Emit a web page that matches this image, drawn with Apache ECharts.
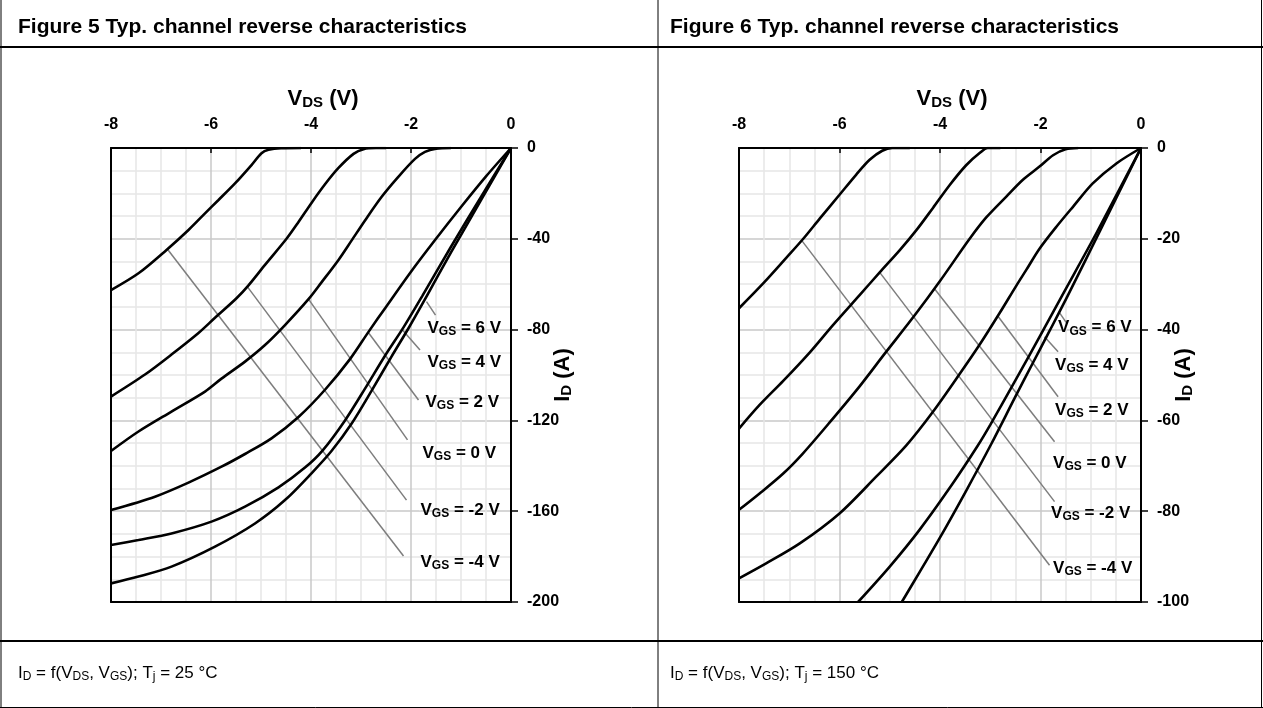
<!DOCTYPE html>
<html>
<head>
<meta charset="utf-8">
<title>Typ. channel reverse characteristics</title>
<script src="https://cdn.jsdelivr.net/npm/echarts@6/dist/echarts.min.js"></script>
<style>
  html, body { margin: 0; padding: 0; background: #fff; }
  #container { width: 1263px; height: 708px; }
</style>
</head>
<body>
<div id="container"></div>
<script>
// V_DS (V) , I_D (A)

// Figure 5, Tj = 25 C
var vgsM4_25 = [[-8,-62.6],[-7.45,-55.2],[-6.89,-44.9],[-6.45,-36.1],[-6.12,-28.8],[-5.85,-22.9],[-5.52,-15.6],[-5.19,-7.5],[-4.99,-2.3],[-4.85,-0.8],[-4.6,-0.1],[-4.2,0]];
var vgsM2_25 = [[-8,-109.5],[-7.32,-99.8],[-6.79,-91],[-6.25,-81.5],[-5.92,-74.8],[-5.49,-66.2],[-5.25,-60.5],[-4.92,-51.5],[-4.49,-40],[-4.25,-32.6],[-3.99,-24.2],[-3.72,-16],[-3.45,-8.8],[-3.15,-2.6],[-2.95,-0.5],[-2.7,0],[-2.5,0]];
var vgs0_25 = [[-8,-133.5],[-7.45,-124.9],[-6.79,-116.1],[-6.12,-107.3],[-5.79,-101.6],[-5.32,-94.1],[-4.92,-86.8],[-4.52,-78],[-4.05,-66.6],[-3.79,-59.2],[-3.45,-49.3],[-3.19,-40.8],[-2.92,-31.9],[-2.59,-21.6],[-2.25,-12.6],[-1.92,-4.8],[-1.72,-1.7],[-1.5,-0.3],[-1.2,0]];
var vgs2_25 = [[-8,-159.5],[-7.12,-153.6],[-6.45,-147.4],[-5.79,-140.4],[-5.32,-134.8],[-4.79,-127.9],[-4.25,-118.5],[-3.72,-106.5],[-3.22,-93],[-2.85,-81],[-2.5,-70],[-2,-54.5],[-1.5,-40],[-1,-26],[-0.5,-12.5],[0,0]];
var vgs4_25 = [[-8,-174.9],[-7.45,-172.7],[-6.79,-169.8],[-5.99,-164.6],[-5.32,-158],[-4.65,-149.5],[-4.12,-140.8],[-3.77,-133.3],[-3.32,-120],[-2.92,-106],[-2.52,-91.5],[-2.15,-79],[-1.77,-65],[-1.2,-43.5],[-0.6,-21.5],[0,0]];
var vgs6_25 = [[-8,-191.8],[-7.45,-188.8],[-6.79,-184.4],[-5.92,-175.6],[-5.12,-165.4],[-4.52,-155.1],[-3.99,-143.3],[-3.59,-133.5],[-3.19,-121.5],[-2.79,-107],[-2.39,-91.9],[-2.05,-79.4],[-1.68,-65],[-1.2,-46],[-0.6,-23],[0,0]];

// Figure 6, Tj = 150 C
var vgsM4_150 = [[-8,-35.3],[-7.5,-29.6],[-7.06,-24.2],[-6.73,-20.1],[-6.39,-15.5],[-6,-10.3],[-5.67,-5.9],[-5.4,-2.6],[-5.15,-0.6],[-4.95,0],[-4.6,0]];
var vgsM2_150 = [[-8,-61.8],[-7.59,-56.6],[-7.12,-51.3],[-6.59,-45],[-6.13,-39],[-5.6,-32.4],[-5.2,-27.4],[-4.8,-22.5],[-4.47,-18.1],[-4.14,-13.2],[-3.81,-8.2],[-3.48,-3.8],[-3.2,-1],[-3.05,0],[-2.8,0]];
var vgs0_150 = [[-8,-79.7],[-7.59,-76.1],[-7.12,-71.7],[-6.73,-67.3],[-6.2,-60.5],[-5.6,-52.5],[-5.1,-45.3],[-4.5,-36.8],[-4,-29.3],[-3.41,-20],[-3.08,-15.3],[-2.68,-10.7],[-2.35,-7],[-2.02,-4.1],[-1.75,-1.6],[-1.5,-0.3],[-1.25,0]];
var vgs2_150 = [[-8,-94.8],[-7.46,-91.5],[-6.79,-87.1],[-6,-80.5],[-5.27,-72.4],[-4.67,-65.5],[-4.14,-58.1],[-3.61,-49.8],[-3.21,-43.3],[-2.81,-36.3],[-2.48,-30.3],[-2.28,-26.8],[-2.02,-22.2],[-1.68,-17.3],[-1.35,-12.9],[-0.96,-7.8],[-0.49,-3.4],[0,0]];
var vgs4_150 = [[-5.63,-100],[-5,-92.2],[-4.4,-84],[-3.74,-73.8],[-3.25,-65.6],[-3,-61],[-2.5,-51.2],[-2,-41.2],[-1.57,-32.5],[-0.9,-19],[0,0]];
var vgs6_150 = [[-4.76,-100],[-4.4,-93.3],[-4.01,-86],[-3.48,-75.5],[-2.98,-65.2],[-2.51,-55],[-2.15,-47.3],[-1.82,-40.3],[-1.47,-32.8],[-0.76,-17],[0,0]];

// curve annotations: [V_GS text, V_DS, I_D]
var labels25 = [['6 V',-1.68,-79.5],['4 V',-1.68,-94.5],['2 V',-1.72,-112],['0 V',-1.78,-134.5],['-2 V',-1.82,-159.5],['-4 V',-1.82,-182.5]];
var labels150 = [['6 V',-1.66,-39.6],['4 V',-1.72,-47.8],['2 V',-1.72,-57.7],['0 V',-1.76,-69.4],['-2 V',-1.8,-80.4],['-4 V',-1.76,-92.5]];
// leader lines, from curve to label
var leaders25 = [[[-6.87,-44.6],[-2.15,-179.7]],[[-5.27,-61.2],[-2.09,-155.1]],[[-4.05,-66.6],[-2.07,-128.6]],[[-2.85,-81.4],[-1.85,-111]],[[-2.17,-80.2],[-1.82,-89]],[[-1.69,-67.7],[-1.51,-73.6]]];
var leaders150 = [[[-6.75,-20.4],[-1.82,-91.9]],[[-5.2,-27.4],[-1.72,-77.9]],[[-4.11,-31],[-1.72,-64.7]],[[-2.85,-37],[-1.65,-54.8]],[[-1.92,-41.6],[-1.65,-44.9]],[[-1.62,-36.3],[-1.49,-38.4]]];

// axes
var xTicks = [-8, -6, -4, -2, 0];
var yTicks25 = [-200, -160, -120, -80, -40, 0];
var yTicks150 = [-100, -80, -60, -40, -20, 0];

var FONT = '"Liberation Sans", Arial, sans-serif';

var dom = document.getElementById('container');
var myChart = echarts.init(dom);

var nameRich = {
  b: { fontFamily: FONT, fontSize: 22, fontWeight: 'bold', color: '#000' },
  sub: { fontFamily: FONT, fontSize: 15, fontWeight: 'bold', color: '#000', padding: [8, 0, 0, 0] }
};

function xAxisFor(idx) {
  return {
    gridIndex: idx,
    type: 'value',
    position: 'top',
    min: xTicks[0],
    max: xTicks[xTicks.length - 1],
    interval: xTicks[1] - xTicks[0],
    name: '{b|V}{sub|DS}{b| (V)}',
    nameLocation: 'middle',
    nameGap: 38,
    nameMoveOverlap: false,
    nameTextStyle: { padding: [0, 0, 0, 24], rich: nameRich },
    axisLine: { show: true, lineStyle: { color: '#000', width: 2 } },
    axisTick: { show: true, inside: true, length: 5, lineStyle: { color: '#000', width: 1.5 } },
    axisLabel: { fontFamily: FONT, fontSize: 16, fontWeight: 'bold', color: '#000', margin: 15 },
    splitLine: { show: true, lineStyle: { color: '#c8c8c8', width: 1.5 } },
    minorTick: { show: false, splitNumber: 4 },
    minorSplitLine: { show: true, lineStyle: { color: '#e6e6e6', width: 1.5 } }
  };
}

function yAxisFor(idx, ticks, gap) {
  return {
    gridIndex: idx,
    type: 'value',
    position: 'right',
    min: ticks[0],
    max: ticks[ticks.length - 1],
    interval: ticks[1] - ticks[0],
    name: '{b|I}{sub|D}{b| (A)}',
    nameLocation: 'middle',
    nameRotate: 90,
    nameGap: gap,
    nameMoveOverlap: false,
    nameTextStyle: { rich: nameRich },
    axisLine: { show: true, lineStyle: { color: '#000', width: 2 } },
    axisTick: { show: true, inside: false, length: 7, lineStyle: { color: '#000', width: 1.5 } },
    axisLabel: { fontFamily: FONT, fontSize: 16, fontWeight: 'bold', color: '#000', margin: 16 },
    splitLine: { show: true, lineStyle: { color: '#c8c8c8', width: 1.5 } },
    minorTick: { show: false, splitNumber: 4 },
    minorSplitLine: { show: true, lineStyle: { color: '#e6e6e6', width: 1.5 } }
  };
}

// plain axes on the other two sides, only to close the black frame
function frameX(idx) {
  return {
    gridIndex: idx, type: 'value', position: 'bottom',
    min: xTicks[0], max: xTicks[xTicks.length - 1],
    axisLine: { show: true, onZero: false, lineStyle: { color: '#000', width: 2 } },
    axisTick: { show: false }, axisLabel: { show: false }, splitLine: { show: false }
  };
}
function frameY(idx, ticks) {
  return {
    gridIndex: idx, type: 'value', position: 'left',
    min: ticks[0], max: ticks[ticks.length - 1],
    axisLine: { show: true, onZero: false, lineStyle: { color: '#000', width: 2 } },
    axisTick: { show: false }, axisLabel: { show: false }, splitLine: { show: false }
  };
}

var series = [];

function addPanel(idx, curves, leaders, labels) {
  leaders.forEach(function (seg) {
    series.push({
      type: 'line',
      xAxisIndex: idx,
      yAxisIndex: idx,
      data: seg,
      symbol: 'none',
      silent: true,
      z: 2,
      lineStyle: { color: '#7d7d7d', width: 1.5 }
    });
  });
  curves.forEach(function (c) {
    series.push({
      type: 'line',
      xAxisIndex: idx,
      yAxisIndex: idx,
      data: c,
      symbol: 'none',
      smooth: 0.3,
      silent: true,
      z: 3,
      lineStyle: { color: '#000', width: 2.6 }
    });
  });
  series.push({
    type: 'scatter',
    xAxisIndex: idx,
    yAxisIndex: idx,
    symbolSize: 1,
    silent: true,
    z: 4,
    itemStyle: { color: '#fff', opacity: 1 },
    label: {
      show: true,
      position: 'right',
      distance: 0,
      color: '#000',
      fontWeight: 'bold',
      formatter: function (p) {
        return '{v|V}{s|GS}{v| = ' + p.name + '}';
      },
      rich: {
        v: { fontFamily: FONT, fontSize: 17, fontWeight: 'bold', color: '#000' },
        s: { fontFamily: FONT, fontSize: 12, fontWeight: 'bold', color: '#000', padding: [7, 0, 0, 0] }
      }
    },
    data: labels.map(function (l) {
      return { name: l[0], value: [l[1], l[2]] };
    })
  });
}

addPanel(0, [vgsM4_25, vgsM2_25, vgs0_25, vgs2_25, vgs4_25, vgs6_25], leaders25, labels25);
addPanel(1, [vgsM4_150, vgsM2_150, vgs0_150, vgs2_150, vgs4_150, vgs6_150], leaders150, labels150);

var footRich = {
  n: { fontFamily: FONT, fontSize: 17, fontWeight: 'normal', color: '#000' },
  s: { fontFamily: FONT, fontSize: 12, fontWeight: 'normal', color: '#000', padding: [7, 0, 0, 0] }
};
var headStyle = { fontFamily: FONT, fontSize: 21, fontWeight: 'bold', color: '#000' };

function tableLine(x1, y1, x2, y2, w) {
  return { type: 'line', silent: true, shape: { x1: x1, y1: y1, x2: x2, y2: y2 }, style: { stroke: '#000', lineWidth: w } };
}

option = {
  backgroundColor: '#fff',
  animation: false,
  title: [
    { text: 'Figure 5 Typ. channel reverse characteristics', left: 18, top: 17, padding: 0, textStyle: headStyle },
    { text: 'Figure 6 Typ. channel reverse characteristics', left: 670, top: 17, padding: 0, textStyle: headStyle },
    { text: '{n|I}{s|D}{n| = f(V}{s|DS}{n|, V}{s|GS}{n|); T}{s|j}{n| = 25 \u00b0C}', left: 18, top: 664, padding: 0,
      textStyle: { fontWeight: 'normal', rich: footRich } },
    { text: '{n|I}{s|D}{n| = f(V}{s|DS}{n|, V}{s|GS}{n|); T}{s|j}{n| = 150 \u00b0C}', left: 670, top: 664, padding: 0,
      textStyle: { fontWeight: 'normal', rich: footRich } }
  ],
  grid: [
    { left: 111, top: 148, width: 400, height: 454 },
    { left: 739, top: 148, width: 402, height: 454 }
  ],
  xAxis: [xAxisFor(0), xAxisFor(1), frameX(0), frameX(1)],
  yAxis: [yAxisFor(0, yTicks25, 40), yAxisFor(1, yTicks150, 31), frameY(0, yTicks25), frameY(1, yTicks150)],
  graphic: [
    tableLine(1, 0, 1, 708, 1),
    tableLine(658, 0, 658, 708, 1),
    tableLine(1261.5, 0, 1261.5, 708, 1),
    tableLine(0, 47, 1263, 47, 2),
    tableLine(0, 641, 1263, 641, 2),
    tableLine(0, 707.5, 1263, 707.5, 1)
  ],
  series: series
};

if (option && typeof option === 'object') {
  myChart.setOption(option, true);
}
</script>
</body>
</html>
